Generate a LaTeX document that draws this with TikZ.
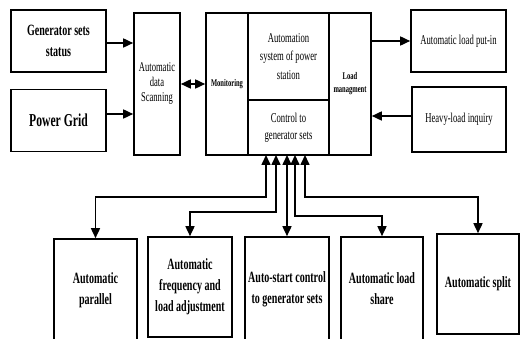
\documentclass[tikz,border=0pt]{standalone}
\usepackage{fontspec}
\setmainfont{Liberation Serif}[FakeStretch=0.64]
\usetikzlibrary{arrows.meta}
\begin{document}
\begin{tikzpicture}[x=1pt,y=-1pt,
  box/.style={draw, line width=1.6pt, inner sep=1pt, align=center},
  arr/.style={-{Triangle[length=10pt,width=9pt]}, line width=1.6pt},
  darr/.style={{Triangle[length=10pt,width=9pt]}-{Triangle[length=10pt,width=9pt]}, line width=1.6pt},
  big/.style={font=\fontsize{15.7}{21}\selectfont\bfseries},
  mid/.style={font=\fontsize{13.5}{17}\selectfont},
  small/.style={font=\fontsize{10.2}{13}\selectfont\bfseries}]
\clip (0,0) rectangle (522,339);
% top-left boxes
\node[box, big, minimum width=95pt, minimum height=62pt] (gen) at (58.5,41) {Generator sets\\status};
\node[box, font=\fontsize{18.2}{20}\selectfont\bfseries, minimum width=95pt, minimum height=62pt] (grid) at (58.5,120.5) {Power Grid};
\node[box, font=\fontsize{13.4}{15}\selectfont, minimum width=46pt, minimum height=142pt] (scan) at (157,84) {Automatic\\data\\Scanning};
% central block
\node[box, small, minimum width=42pt, minimum height=142pt] (mon) at (227,84) {Monitoring};
\node[box, font=\fontsize{13.5}{18.5}\selectfont, minimum width=81pt, minimum height=87pt] (auto) at (288.5,56.5) {Automation\\system of power\\station};
\node[box, mid, minimum width=81pt, minimum height=55pt] (ctrl) at (288.5,127.5) {Control to\\generator sets};
\node[box, small, minimum width=42pt, minimum height=142pt] (load) at (350,84) {Load\\managment};
% right boxes
\node[box, mid, minimum width=95pt, minimum height=62pt] (put) at (458.5,41) {Automatic load put-in};
\node[box, mid, minimum width=94pt, minimum height=65pt] (heavy) at (459,119.5) {Heavy-load inquiry};
% bottom boxes
\node[box, big, minimum width=83pt, minimum height=102pt] (par) at (95.5,290) {Automatic\\parallel};
\node[box, big, minimum width=84pt, minimum height=100pt] (freq) at (190,287) {Automatic\\frequency and\\load adjustment};
\node[box, big, minimum width=84pt, minimum height=104pt] (start) at (287,289) {Auto-start control\\to generator sets};
\node[box, big, minimum width=82pt, minimum height=104pt] (share) at (382,289) {Automatic load\\share};
\node[box, big, minimum width=82pt, minimum height=100pt] (split) at (478,284) {Automatic split};
% connectors top
\draw[arr] (gen.east |- 0,43) -- (scan.west |- 0,43);
\draw[arr] (grid.east |- 0,114) -- (scan.west |- 0,114);
\draw[darr] (scan.east) -- (mon.west);
\draw[arr] (load.east |- put.west) -- (put.west);
\draw[arr] (heavy.west |- 0,116) -- (load.east |- 0,116);
% connectors bottom
\coordinate (c1) at (266,155);
\coordinate (c2) at (276,155);
\coordinate (c3) at (287,155);
\coordinate (c4) at (295,155);
\coordinate (c5) at (305,155);
\draw[darr] (par.north) |- (c1 |- 0,197) -- (c1);
\draw[darr] (freq.north) |- (c2 |- 0,212) -- (c2);
\draw[darr] (c3) -- (start.north);
\draw[darr] (share.north) |- (c4 |- 0,216) -- (c4);
\draw[darr] (split.north) |- (c5 |- 0,197) -- (c5);
\end{tikzpicture}
\end{document}
